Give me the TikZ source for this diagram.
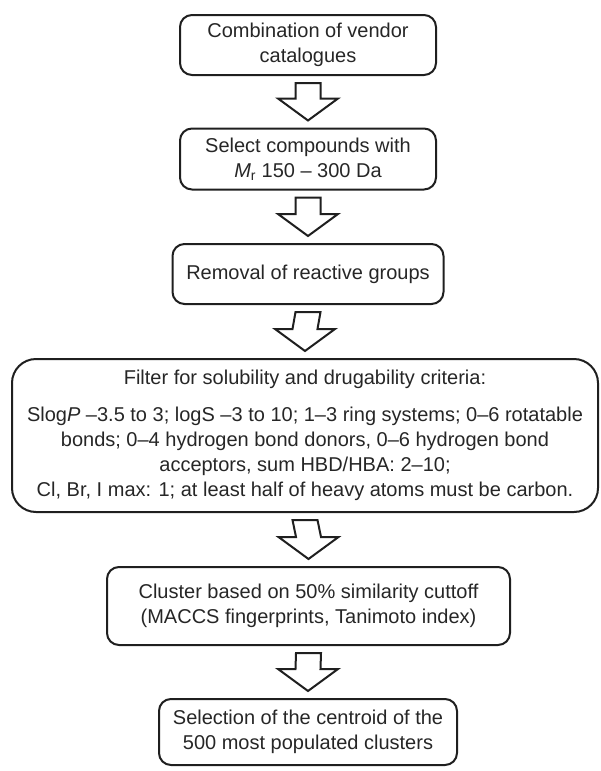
\documentclass[tikz,border=0pt]{standalone}
\usepackage{fontspec}
\setmainfont{Liberation Sans}
\usetikzlibrary{calc}
\begin{document}
\begin{tikzpicture}[x=1pt,y=-1pt,
  box/.style={draw=black!88, line width=2pt, rounded corners=12pt, align=center,
    text=black!85, font=\fontsize{20}{25}\selectfont, inner sep=0pt},
  blockarr/.style={draw=black!88, line width=2pt, fill=white, line join=miter}]
\useasboundingbox (0,0) rectangle (601,771);
\node[box, minimum width=256pt, minimum height=60pt] (b1) at (308,45) {Combination of vendor\\catalogues};
\node[box, minimum width=256pt, minimum height=61pt] (b2) at (308,159) {Select compounds with\\\textit{M}\textsubscript{r} 150 – 300 Da};
\node[box, minimum width=271pt, minimum height=60pt] (b3) at (308,274) {Removal of reactive groups};
\node[box, rounded corners=24pt, minimum width=586pt, minimum height=153pt] (b4) at (305,435.5) {Filter for solubility and drugability criteria:\\[12pt]
Slog\textit{P} –3.5 to 3; logS –3 to 10; 1–3 ring systems; 0–6 rotatable\\
bonds; 0–4 hydrogen bond donors, 0–6 hydrogen bond\\
acceptors, sum HBD/HBA: 2–10;\\
Cl, Br, I max: 1; at least half of heavy atoms must be carbon.};
\node[box, minimum width=403pt, minimum height=78pt] (b5) at (308.5,606) {Cluster based on 50\% similarity cuttoff\\(MACCS fingerprints, Tanimoto index)};
\node[box, minimum width=298pt, minimum height=66pt] (b6) at (308,732) {Selection of the centroid of the\\500 most populated clusters};
\foreach \a/\b in {b1/b2,b2/b3,b3/b4,b4/b5,b5/b6}{
  \draw[blockarr] ($(\a.south)+(-12.5,7)$) -- ($(\a.south)+(12.5,7)$) -- ($(\b.north)+(12.5,-29)$)
    -- ($(\b.north)+(30,-29)$) -- ($(\b.north)+(0,-7)$) -- ($(\b.north)+(-30,-29)$)
    -- ($(\b.north)+(-12.5,-29)$) -- cycle;
}
\end{tikzpicture}
\end{document}
